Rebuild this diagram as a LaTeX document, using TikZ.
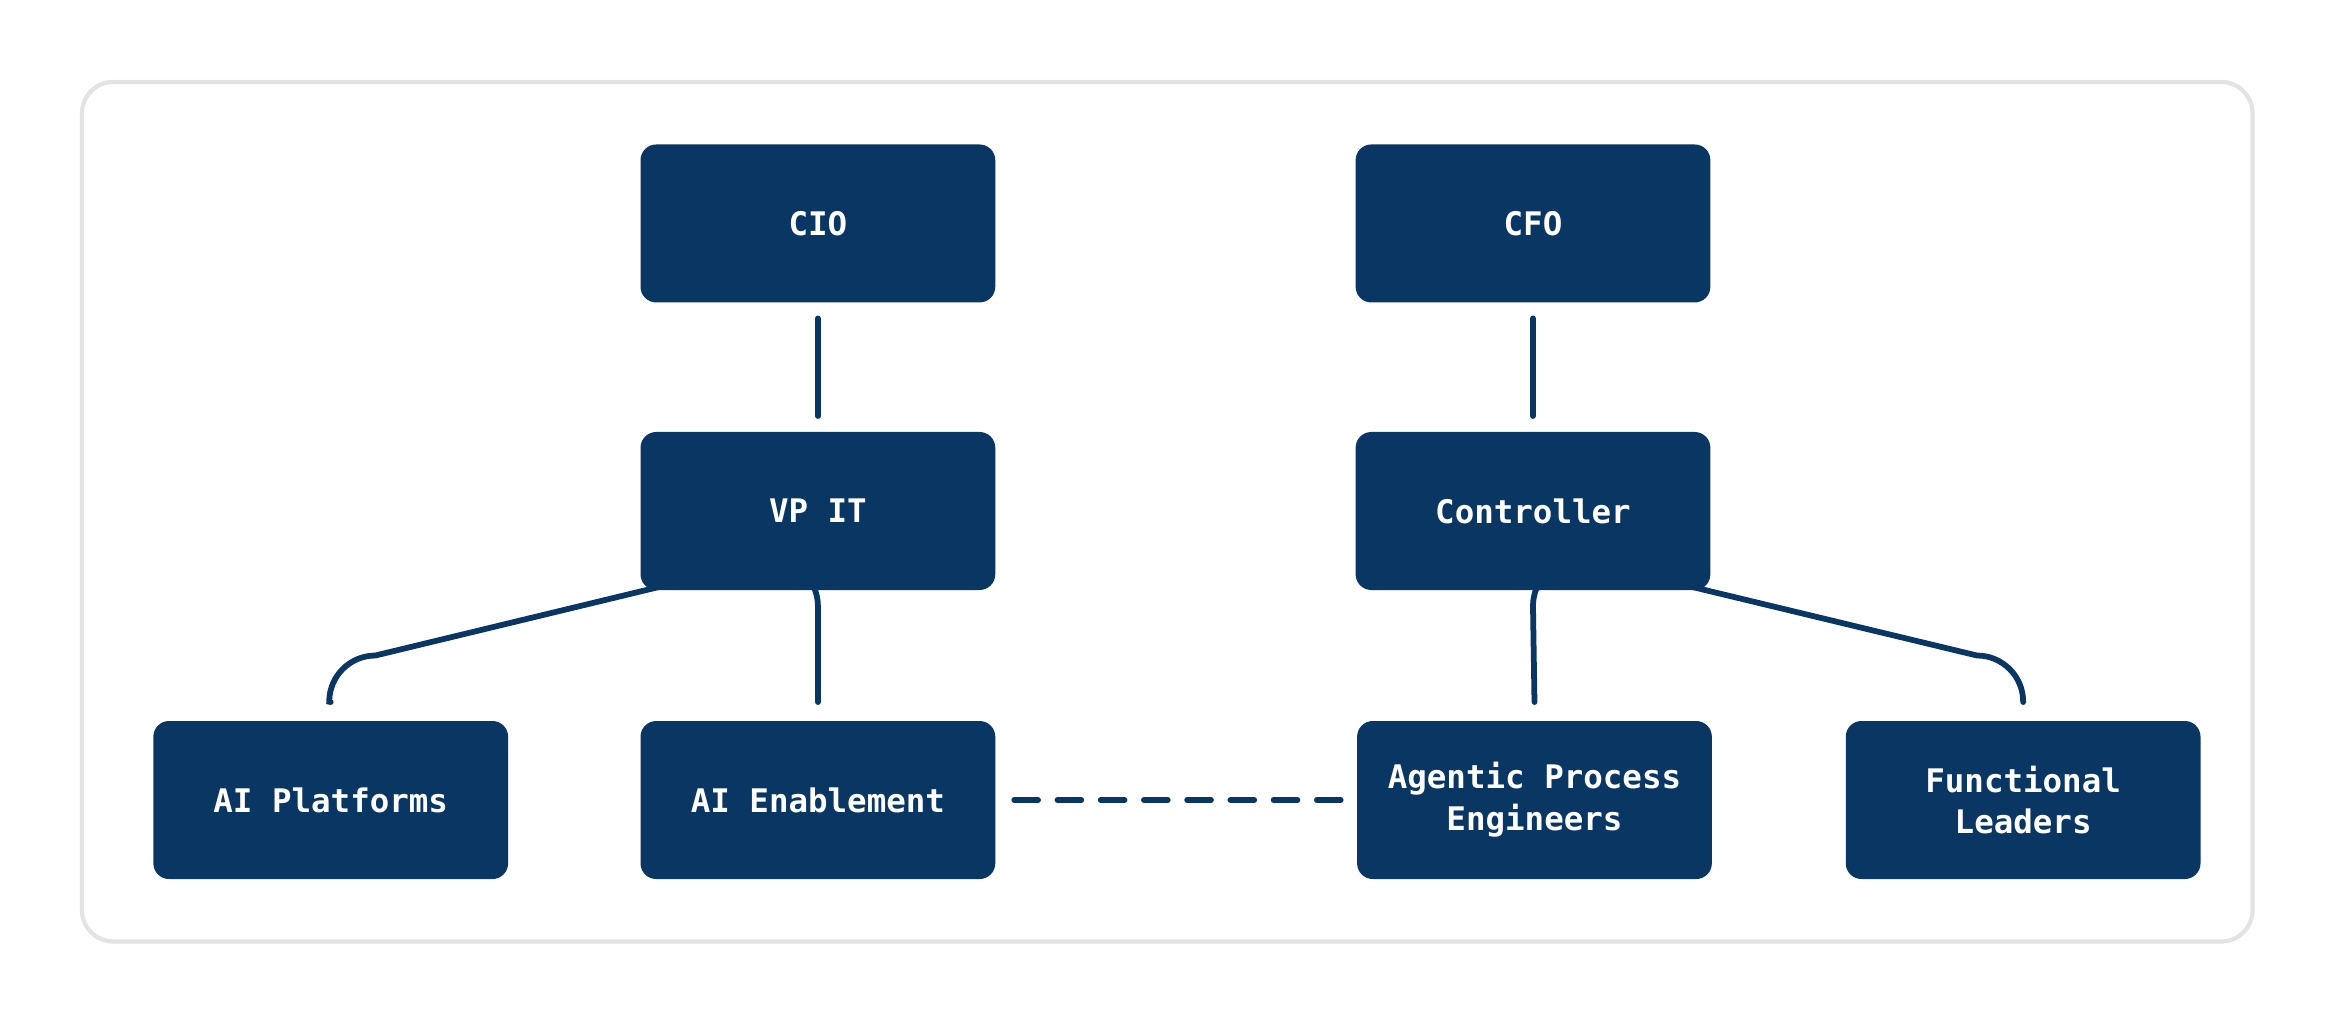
\documentclass[tikz,border=0pt]{standalone}
\usepackage{fontspec}
\setmonofont{DejaVu Sans Mono}
\usetikzlibrary{positioning}
\definecolor{navy}{HTML}{0A3663}
\definecolor{framegray}{HTML}{E3E3E3}
\begin{document}
\begin{tikzpicture}[x=0.01cm,y=-0.01cm,
    box/.style={fill=navy,rounded corners=3pt,minimum width=2.38cm,minimum height=1.06cm,
        text=white,font=\ttfamily\bfseries\fontsize{6.2}{8}\selectfont,align=center,inner sep=0pt},
    link/.style={draw=navy,line width=1.1pt,line cap=round}]

    \useasboundingbox (0,0) rectangle (1568,688);
    \draw[framegray,line width=0.8pt,rounded corners=6pt] (55,55) rectangle (1512,632);

    \node[box] (cio) at (549,150) {CIO};
    \node[box] (cfo) at (1029,150) {CFO};
    \node[box] (vpit) at (549,343) {VP IT};
    \node[box] (ctrl) at (1029,343) {Controller};
    \node[box] (plat) at (222,537) {AI Platforms};
    \node[box] (enab) at (549,537) {AI Enablement};
    \node[box] (agen) at (1030,537) {Agentic Process\\Engineers};
    \node[box] (func) at (1358,537) {Functional\\Leaders};

    \draw[link] ([yshift=-0.1cm]cio.south) -- ([yshift=0.1cm]vpit.north);
    \draw[link] ([yshift=-0.1cm]cfo.south) -- ([yshift=0.1cm]ctrl.north);
    \draw[link] ([yshift=-0.1cm]vpit.south) -- ([yshift=0.12cm]enab.north);
    \draw[link] ([yshift=-0.1cm]ctrl.south) -- ([yshift=0.12cm]agen.north);
    \draw[link] ([yshift=-0.1cm]vpit.south) arc[start angle=0,end angle=90,radius=0.31cm]
        -- (252,440) arc[start angle=90,end angle=180,radius=0.31cm] -- ([yshift=0.12cm]plat.north);
    \draw[link] ([yshift=-0.1cm]ctrl.south) arc[start angle=180,end angle=90,radius=0.31cm]
        -- (1327,440) arc[start angle=90,end angle=0,radius=0.31cm] -- ([yshift=0.12cm]func.north);
    \draw[link,dash pattern=on 0.16cm off 0.13cm] ([xshift=0.12cm]enab.east) -- ([xshift=-0.1cm]agen.west);
\end{tikzpicture}
\end{document}
